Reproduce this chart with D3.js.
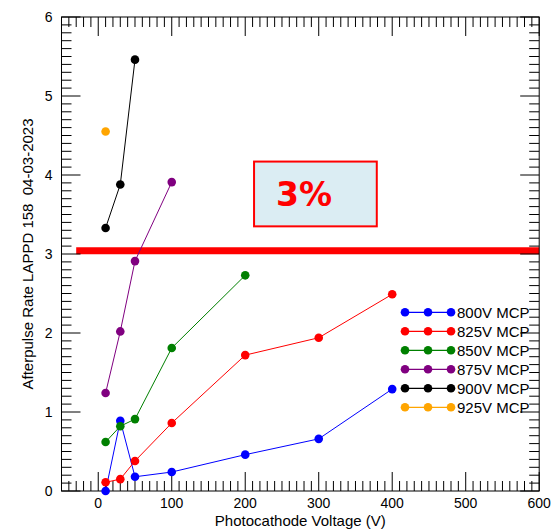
<!DOCTYPE html>
<html>
<head>
<meta charset="utf-8">
<script src="https://cdn.jsdelivr.net/npm/d3@7/dist/d3.min.js"></script>
<style>
  html, body { margin: 0; padding: 0; background: #fff; }
  svg { display: block; font-family: "Liberation Sans", Arial, Helvetica, sans-serif; }
</style>
</head>
<body>
<svg id="chart" width="560" height="531"></svg>
<script>
// Photocathode voltage (V) at which each run was taken
const voltages = [10, 30, 50, 100, 200, 300, 400];

// Afterpulse rate (%) per MCP voltage
const mcp800 = [0.00, 0.89, 0.18, 0.24, 0.46, 0.66, 1.29];
const mcp825 = [0.11, 0.15, 0.38, 0.86, 1.72, 1.94, 2.49];
const mcp850 = [0.62, 0.82, 0.91, 1.81, 2.73];
const mcp875 = [1.24, 2.02, 2.91, 3.91];
const mcp900 = [3.33, 3.88, 5.46];
const mcp925 = [4.55];

const seriesNames = ["800V MCP", "825V MCP", "850V MCP", "875V MCP", "900V MCP", "925V MCP"];
const seriesValues = [mcp800, mcp825, mcp850, mcp875, mcp900, mcp925];
const seriesColors = ["#0000ff", "#ff0000", "#008000", "#800080", "#000000", "#ffa500"];

// Axis ticks
const xMajorTicks = [0, 100, 200, 300, 400, 500, 600];
const yMajorTicks = [0, 1, 2, 3, 4, 5, 6];

// Threshold line
const thresholdValue = 3.04;
const thresholdStart = -30;
const thresholdLabel = "3%";

const svg = d3.select("#chart");
const x = d3.scaleLinear().domain([-50, 600]).range([61.5, 539.2]);
const y = d3.scaleLinear().domain([0, 6]).range([491, 17]);

const [x0, x1] = x.range();
const [yb, yt] = y.range();

const xMinor = d3.range(-40, 600, 10).filter(v => v % 100 !== 0);
const yMinor = d3.range(1, 60).map(v => v / 10).filter((v, i) => (i + 1) % 10 !== 0);

// Threshold line (drawn beneath the data)
svg.append("line")
  .attr("x1", x(thresholdStart)).attr("x2", x(600))
  .attr("y1", y(thresholdValue)).attr("y2", y(thresholdValue))
  .attr("stroke", "#ff0000").attr("stroke-width", 7);

// Annotation box
svg.append("rect")
  .attr("x", x(212)).attr("y", y(4.17))
  .attr("width", x(379) - x(212)).attr("height", y(3.35) - y(4.17))
  .attr("fill", "#dbedf3").attr("stroke", "#ff0000").attr("stroke-width", 2);
svg.append("text")
  .attr("x", x(212) + 22).attr("y", y(3.35) - 20)
  .attr("fill", "#ff0000").attr("font-size", 33).attr("font-weight", "bold")
  .attr("font-family", "'DejaVu Sans', sans-serif")
  .text(thresholdLabel);

// Frame
svg.append("rect")
  .attr("x", x0).attr("y", yt).attr("width", x1 - x0).attr("height", yb - yt)
  .attr("fill", "none").attr("stroke", "#000").attr("stroke-width", 1);

const ticks = svg.append("g").attr("stroke", "#000").attr("stroke-width", 1);
// Bottom & top x ticks
xMajorTicks.forEach(v => {
  ticks.append("line").attr("x1", x(v)).attr("x2", x(v)).attr("y1", yb).attr("y2", yb - 19);
  ticks.append("line").attr("x1", x(v)).attr("x2", x(v)).attr("y1", yt).attr("y2", yt + 19);
});
xMinor.forEach(v => {
  ticks.append("line").attr("x1", x(v)).attr("x2", x(v)).attr("y1", yb).attr("y2", yb - 10);
  ticks.append("line").attr("x1", x(v)).attr("x2", x(v)).attr("y1", yt).attr("y2", yt + 10);
});
// Left & right y ticks
yMajorTicks.forEach(v => {
  ticks.append("line").attr("y1", y(v)).attr("y2", y(v)).attr("x1", x0).attr("x2", x0 + 19);
  ticks.append("line").attr("y1", y(v)).attr("y2", y(v)).attr("x1", x1).attr("x2", x1 - 19);
});
yMinor.forEach(v => {
  ticks.append("line").attr("y1", y(v)).attr("y2", y(v)).attr("x1", x0).attr("x2", x0 + 10);
  ticks.append("line").attr("y1", y(v)).attr("y2", y(v)).attr("x1", x1).attr("x2", x1 - 10);
});

// Tick labels
svg.append("g").selectAll("text").data(xMajorTicks).join("text")
  .attr("x", d => x(d)).attr("y", 507.5)
  .attr("text-anchor", "middle").attr("font-size", 14).attr("fill", "#000")
  .text(d => d);
svg.append("g").selectAll("text").data(yMajorTicks).join("text")
  .attr("x", 52.5).attr("y", d => y(d)).attr("dy", "0.36em")
  .attr("text-anchor", "end").attr("font-size", 14).attr("fill", "#000")
  .text(d => d);

// Axis titles
svg.append("text")
  .attr("x", (x0 + x1) / 2).attr("y", 526)
  .attr("text-anchor", "middle").attr("font-size", 15).attr("fill", "#000")
  .text("Photocathode Voltage (V)");
svg.append("text")
  .attr("transform", `translate(33,${(yb + yt) / 2}) rotate(-90)`)
  .attr("text-anchor", "middle").attr("font-size", 15).attr("fill", "#000")
  .style("white-space", "pre")
  .text("Afterpulse Rate LAPPD 158  04-03-2023");

// Data series
const line = d3.line().x(d => x(d[0])).y(d => y(d[1]));
seriesValues.forEach((vals, i) => {
  const pts = vals.map((v, j) => [voltages[j], v]);
  const g = svg.append("g");
  g.append("path").attr("d", line(pts))
    .attr("fill", "none").attr("stroke", seriesColors[i]).attr("stroke-width", 1);
  g.selectAll("circle").data(pts).join("circle")
    .attr("cx", d => x(d[0])).attr("cy", d => y(d[1])).attr("r", 4.3)
    .attr("fill", seriesColors[i]);
});

// Legend
const legend = svg.append("g");
seriesNames.forEach((name, i) => {
  const ly = 312.3 + i * 19;
  const g = legend.append("g");
  g.append("line").attr("x1", 405).attr("x2", 451).attr("y1", ly).attr("y2", ly)
    .attr("stroke", seriesColors[i]).attr("stroke-width", 1.2);
  [405, 428, 451].forEach(cx => {
    g.append("circle").attr("cx", cx).attr("cy", ly).attr("r", 4.3).attr("fill", seriesColors[i]);
  });
  g.append("text").attr("x", 457).attr("y", ly).attr("dy", "0.36em")
    .attr("font-size", 15).attr("fill", "#000").text(name);
});
</script>
</body>
</html>
